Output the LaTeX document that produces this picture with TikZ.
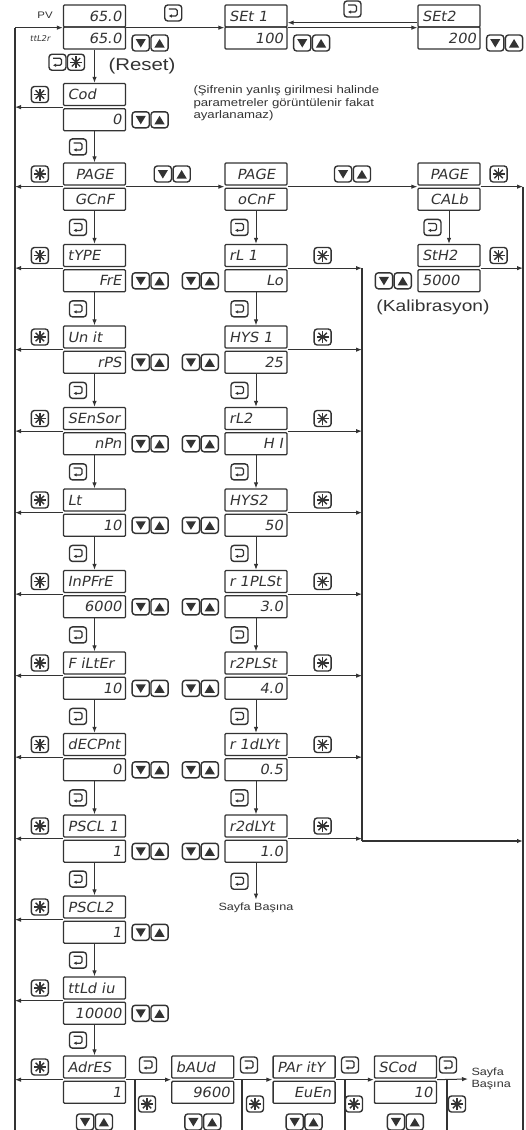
\documentclass[tikz,border=0pt]{standalone}
\usepackage{fontspec}
\usetikzlibrary{arrows.meta,positioning,calc}
\newfontfamily\capfont{Liberation Sans}[FakeStretch=1.2]
\newfontfamily\segfont{DejaVu Sans}[FakeSlant=0.18,FakeStretch=1.05]
\definecolor{ink}{HTML}{333333}

\tikzset{
  keyframe/.style={draw=ink, line width=1.4pt, rounded corners=3pt},
  retkey/.pic={
    \draw[keyframe] (-8.5,-8) rectangle (8.5,8);
    \draw[draw=ink, line width=1.2pt, rounded corners=1.5pt, -{Latex[length=3pt,width=3.5pt]}] (-4.5,-4) -- (4,-4) -- (4,3) -- (-4.5,3);
  },
  starkey/.pic={
    \draw[keyframe] (-8.5,-8) rectangle (8.5,8);
    \foreach \a in {0,45,90,135} \draw[ink, line width=1.4pt] (\a:6) -- (\a+180:6);
  },
  updown/.pic={
    \draw[keyframe] (-18,-8) rectangle (-0.8,8);
    \draw[keyframe] (0.8,-8) rectangle (18,8);
    \fill[ink] (-14.5,-4) -- (-4.3,-4) -- (-9.4,4.5) -- cycle;
    \fill[ink] (4.3,4.5) -- (14.5,4.5) -- (9.4,-4) -- cycle;
  }
}

\begin{document}
\begin{tikzpicture}[x=1pt, y=-1pt, >=Latex, font=\capfont, every node/.style={text=ink}]
\tikzstyle{lcd}=[draw=ink, line width=1.3pt, rounded corners=1pt, minimum height=22pt, text width=54pt, inner xsep=4pt, inner ysep=0pt, font=\segfont\fontsize{14}{14}\selectfont]
\tikzstyle{parbox}=[lcd, align=left]
\tikzstyle{valbox}=[lcd, align=right]
\tikzstyle{midbox}=[lcd, align=center]
\tikzstyle{arr}=[draw=ink, line width=1pt, -{Latex[length=6pt,width=4.5pt]}]
\tikzstyle{bus}=[draw=ink, line width=1.5pt]
\useasboundingbox (0,0) rectangle (525,1130);

% top row
\node[valbox] (pv) at (94.5,16) {65.0};
\node[valbox, below=-1.3pt of pv] (pv2) {65.0};
\node[parbox] (set1) at (256,16) {SEt 1};
\node[valbox, below=-1.3pt of set1] (set1v) {100};
\node[parbox] (set2) at (449,16) {SEt2};
\node[valbox, below=-1.3pt of set2] (set2v) {200};
\node[font=\capfont\fontsize{9.5}{9.5}\selectfont] (pvlbl) at (45,15) {PV};
\node[font=\segfont\fontsize{8}{8}\selectfont] (ttlbl) at (40,39) {ttL2r};
\node[font=\capfont\fontsize{17}{17}\selectfont] (reset) at (142,66) {(Reset)};

% left column
\node[parbox] (cod) at (94.5,94.5) {Cod};
\node[valbox, below=2pt of cod] (codv) {0};
\node[midbox] (page1) at (94.5,174) {PAGE};
\node[midbox, below=2pt of page1] (page1v) {GCnF};
\node[parbox] (type) at (94.5,255.5) {tYPE};
\node[valbox, below=2pt of type] (typev) {FrE};
\node[parbox] (unit) at (94.5,337) {Un it};
\node[valbox, below=2pt of unit] (unitv) {rPS};
\node[parbox] (sensor) at (94.5,418.5) {SEnSor};
\node[valbox, below=2pt of sensor] (sensorv) {nPn};
\node[parbox] (lt) at (94.5,500) {Lt};
\node[valbox, below=2pt of lt] (ltv) {10};
\node[parbox] (inpfre) at (94.5,581.5) {InPFrE};
\node[valbox, below=2pt of inpfre] (inpfrev) {6000};
\node[parbox] (filter) at (94.5,663) {F iLtEr};
\node[valbox, below=2pt of filter] (filterv) {10};
\node[parbox] (decpnt) at (94.5,744.5) {dECPnt};
\node[valbox, below=2pt of decpnt] (decpntv) {0};
\node[parbox] (pscla) at (94.5,826) {PSCL 1};
\node[valbox, below=2pt of pscla] (psclav) {1};
\node[parbox] (psclb) at (94.5,907) {PSCL2};
\node[valbox, below=2pt of psclb] (psclbv) {1};
\node[parbox] (ttldiv) at (94.5,988) {ttLd iu};
\node[valbox, below=2pt of ttldiv] (ttldivv) {10000};
\node[parbox] (adres) at (94.5,1067) {AdrES};
\node[valbox, below=2pt of adres] (adresv) {1};

% bottom row
\node[parbox, right=45pt of adres] (baud) {bAUd};
\node[valbox, below=2pt of baud] (baudv) {9600};
\node[parbox, right=38pt of baud] (parity) {PAr itY};
\node[valbox, below=2pt of parity] (parityv) {EuEn};
\node[parbox, right=38pt of parity] (scod) {SCod};
\node[valbox, below=2pt of scod] (scodv) {10};

% middle column
\node[midbox] (page2) at (256,174) {PAGE};
\node[midbox, below=2pt of page2] (page2v) {oCnF};
\node[parbox] (rla) at (256,255.5) {rL 1};
\node[valbox, below=2pt of rla] (rlav) {Lo};
\node[parbox] (hysa) at (256,337) {HYS 1};
\node[valbox, below=2pt of hysa] (hysav) {25};
\node[parbox] (rlb) at (256,418.5) {rL2};
\node[valbox, below=2pt of rlb] (rlbv) {H I};
\node[parbox] (hysb) at (256,500) {HYS2};
\node[valbox, below=2pt of hysb] (hysbv) {50};
\node[parbox] (rpa) at (256,581.5) {r 1PLSt};
\node[valbox, below=2pt of rpa] (rpav) {3.0};
\node[parbox] (rpb) at (256,663) {r2PLSt};
\node[valbox, below=2pt of rpb] (rpbv) {4.0};
\node[parbox] (rda) at (256,744.5) {r 1dLYt};
\node[valbox, below=2pt of rda] (rdav) {0.5};
\node[parbox] (rdb) at (256,826) {r2dLYt};
\node[valbox, below=2pt of rdb] (rdbv) {1.0};

% right column
\node[midbox] (page3) at (449,174) {PAGE};
\node[midbox, below=2pt of page3] (page3v) {CALb};
\node[parbox] (sth) at (449,255.5) {StH2};
\node[parbox, below=2pt of sth] (sthv) {5000};

% texts
\node[anchor=north west, align=left, font=\capfont\fontsize{11}{12.5}\selectfont] (note) at (190,82) {(Şifrenin yanlış girilmesi halinde\\parametreler görüntülenir fakat\\ayarlanamaz)};
\node[font=\capfont\fontsize{16}{16}\selectfont] (kalib) at (433,307) {(Kalibrasyon)};
\node[font=\capfont\fontsize{10.5}{10.5}\selectfont] (top1) at (256,908) {Sayfa Başına};
\node[anchor=west, align=left, font=\capfont\fontsize{10.5}{11.5}\selectfont] (top2) at (468,1079) {Sayfa\\Başına};

% bus lines
\coordinate (lx) at (15,1130);
\coordinate (mbus) at (362,841);
\coordinate (rx) at (523,1130);
\draw[bus] (lx) -- (lx |- pv.south);
\draw[arr] (lx |- pv.south) -- (pv.south west);
\draw[bus] ([yshift=-1pt]mbus |- rla.south) -- (mbus);
\draw[arr, line width=1.5pt] (mbus) -- (mbus -| rx);
\draw[bus] ([yshift=-1pt]rx |- page3.south) -- (rx);

% top row links
\draw[arr] (pv.south east) -- (set1.south west);
\draw[arr] ([yshift=5pt]set2.south west) -- ([yshift=5pt]set1.south east);
\draw[arr] (set1.south east) -- (set2.south west);
\pic at ($(pv.east)!.5!(set1.west)+(-2,-3)$) {retkey};
\pic at ($(set1.east)!.5!(set2.west)+(0,-7)$) {retkey};
\foreach \n in {pv2,set1v,set2v} \pic at ([xshift=24pt,yshift=-5pt]\n.east) {updown};
\draw[arr] (pv2) -- (cod);
\pic at ($(pv2.south)!.5!(cod.north)+(-37,-4)$) {retkey};
\pic at ($(pv2.south)!.5!(cod.north)+(-18.5,-4)$) {starkey};

% left column links
\foreach \n in {cod,page1,type,unit,sensor,lt,inpfre,filter,decpnt,pscla,psclb,ttldiv,adres} {
  \draw[arr] ([yshift=-1pt]\n.south west) -- ([yshift=-1pt]lx |- \n.south);
  \pic at ([xshift=-23pt]\n.west) {starkey};
}
\foreach \a/\b in {codv/page1,page1v/type,typev/unit,unitv/sensor,sensorv/lt,ltv/inpfre,inpfrev/filter,filterv/decpnt,decpntv/pscla,psclav/psclb,psclbv/ttldiv,ttldivv/adres,page2v/rla,rlav/hysa,hysav/rlb,rlbv/hysb,hysbv/rpa,rpav/rpb,rpbv/rda,rdav/rdb,rdbv/top1,page3v/sth} {
  \draw[arr] (\a) -- (\b);
  \pic at ($(\a.south)!.5!(\b.north)+(-16.5,0)$) {retkey};
}
\foreach \n in {codv,typev,unitv,sensorv,ltv,inpfrev,filterv,decpntv,psclav,psclbv,ttldivv} \pic at ([xshift=24pt]\n.east) {updown};

% PAGE row
\draw[arr] ([yshift=-1pt]page1.south east) -- ([yshift=-1pt]page2.south west);
\draw[arr] ([yshift=-1pt]page2.south east) -- ([yshift=-1pt]page3.south west);
\pic at ($(page1.east)!.5!(page2.west)+(-3,0)$) {updown};
\pic at ($(page2.east)!.5!(page3.west)$) {updown};

% middle column links
\foreach \n in {rla,hysa,rlb,hysb,rpa,rpb,rda,rdb} {
  \draw[arr] ([yshift=-1pt]\n.south east) -- ([yshift=-1pt]mbus |- \n.south);
  \pic at ([xshift=35pt]\n.east) {starkey};
}
\foreach \n in {rlav,hysav,rlbv,hysbv,rpav,rpbv,rdav,rdbv,sthv} \pic at ([xshift=-24pt]\n.west) {updown};

% right column links
\foreach \n in {page3,sth} {
  \draw[arr] ([yshift=-1pt]\n.south east) -- ([yshift=-1pt]rx |- \n.south);
  \pic at ([xshift=18pt]\n.east) {starkey};
}

% bottom row links
\draw[arr] ([yshift=-1pt]adres.south east) -- ([yshift=-1pt]baud.south west);
\draw[arr] ([yshift=-1pt]baud.south east) -- ([yshift=-1pt]parity.south west);
\draw[arr] ([yshift=-1pt]parity.south east) -- ([yshift=-1pt]scod.south west);
\draw[arr] ([yshift=-1pt]scod.south east) -- (top2.west);
\foreach \n/\x/\rx/\sx in {adres/135/148/147,baud/242/249/255,parity/345/350/354,scod/447/448/457} {
  \draw[draw=ink, line width=1.3pt] ([yshift=-1pt]\x,0 |- \n.south) -- (\x,1130);
  \pic at (\rx,1065) {retkey};
  \pic at (\sx,1104) {starkey};
}
\foreach \n in {adresv,baudv,parityv,scodv} \pic at ([yshift=-18pt]\n.south) {updown};
\end{tikzpicture}
\end{document}
